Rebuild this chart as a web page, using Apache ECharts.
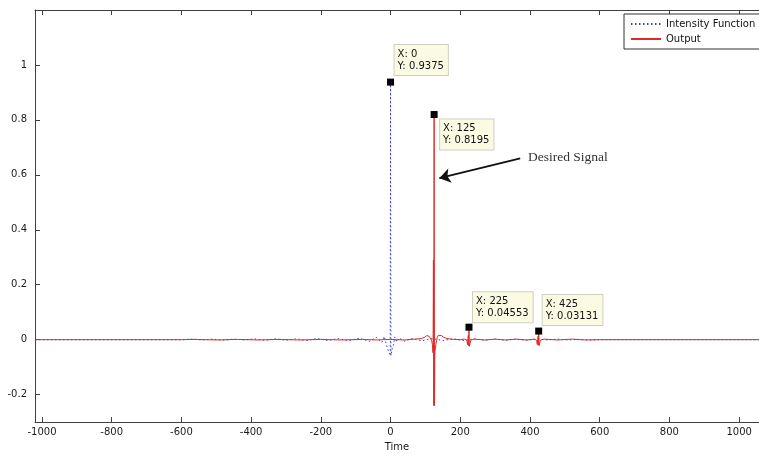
<!DOCTYPE html>
<html>
<head>
<meta charset="utf-8">
<script src="https://cdn.jsdelivr.net/npm/echarts@6/dist/echarts.min.js"></script>
<style>
  html, body { margin: 0; padding: 0; background: #fff; }
  #chart { width: 759px; height: 457px; }
</style>
</head>
<body>
<div id="chart"></div>
<script>
// tick labels
var xTicks = [-1000, -800, -600, -400, -200, 0, 200, 400, 600, 800, 1000];
var yTicks = [-0.2, 0, 0.2, 0.4, 0.6, 0.8, 1];

// Intensity Function (dotted blue), [time, value]
var intensityData = [
  [-1020, 0], [-600, 0], [-570, 0.002], [-540, -0.001], [-510, 0.002], [-480, -0.002],
  [-450, 0.002], [-420, -0.001], [-390, 0.003], [-360, -0.002], [-330, 0.003], [-300, -0.002],
  [-270, 0.003], [-240, -0.003], [-210, 0.004], [-180, -0.003], [-150, 0.004], [-120, -0.004],
  [-90, 0.005], [-60, -0.006], [-40, 0.008], [-25, -0.01], [-18, 0.012], [-12, -0.02],
  [-8, -0.035], [-5, -0.03], [-3, -0.05], [-1, -0.058], [0, 0.9375], [1, -0.058],
  [3, -0.045], [5, -0.03], [8, -0.02], [12, 0.01], [18, -0.008], [25, 0.006],
  [40, -0.005], [60, 0.004], [90, -0.004], [120, 0.004], [150, -0.003], [180, 0.003],
  [210, -0.003], [240, 0.003], [270, -0.002], [300, 0.002], [330, -0.002], [360, 0.002],
  [390, -0.002], [420, 0.002], [450, -0.001], [480, 0.002], [510, -0.001], [540, 0.001],
  [570, -0.001], [600, 0], [1057, 0]
];

// Output (solid red), [time, value]
var outputData = [
  [-1020, 0], [-600, 0], [-560, 0.001], [-500, -0.001], [-440, 0.001], [-380, -0.001],
  [-320, 0.001], [-260, -0.001], [-200, 0.001], [-140, -0.001], [-80, 0.001], [-40, -0.001],
  [0, 0.001], [40, -0.001], [70, 0.002], [88, 0.004], [98, 0.009], [104, 0.015],
  [108, 0.017], [111, 0.012], [113, 0.016], [116, 0.008], [118, -0.004], [120, -0.018],
  [121, -0.038], [122, -0.048], [123, 0.29], [124, -0.24], [125, 0.8195], [126, -0.24],
  [127, -0.048], [128, -0.038], [130, -0.018], [132, -0.004], [134, 0.008], [137, 0.016],
  [139, 0.012], [142, 0.017], [146, 0.015], [152, 0.009], [162, 0.004], [180, 0.001],
  [200, 0], [212, 0.002], [219, -0.002], [221, -0.018], [223, 0.015], [224, -0.022],
  [225, 0.04553], [226, -0.024], [228, -0.015], [230, -0.002], [240, 0.002], [270, -0.001],
  [300, 0.002], [330, -0.001], [360, 0.002], [390, -0.001], [412, 0.002], [419, -0.002],
  [421, -0.018], [423, 0.012], [424, -0.02], [425, 0.03131], [426, -0.022], [428, -0.012],
  [430, -0.002], [440, 0.002], [480, -0.001], [520, 0.002], [560, -0.001], [600, 0],
  [1057, 0]
];

// data tips
var tipX = [0, 125, 225, 425];
var tipY = [0.9375, 0.8195, 0.04553, 0.03131];

var chart = echarts.init(document.getElementById('chart'));

var axisColor = '#404040';
var plain = function (v) { return String(v); };
var tickFont = { color: '#1a1a1a', fontSize: 10, fontFamily: 'DejaVu Sans', formatter: plain };

// label placement of each tip box relative to its square
var tipPos = [
  { position: [7.5, -3.5], verticalAlign: 'bottom' },
  { position: [9.5, 8.5], verticalAlign: 'top' },
  { position: [7.5, -1.5], verticalAlign: 'bottom' },
  { position: [7.5, -2.5], verticalAlign: 'bottom' }
];

var tipData = tipX.map(function (x, i) {
  return {
    value: [x, tipY[i]],
    label: {
      position: tipPos[i].position,
      align: 'left',
      verticalAlign: tipPos[i].verticalAlign
    }
  };
});

var option = {
  animation: false,
  backgroundColor: '#fff',
  grid: { left: 35, right: 0, top: 10, bottom: 30.5, containLabel: false },
  legend: {
    data: ['Intensity Function', 'Output'],
    orient: 'vertical',
    left: 624,
    top: 14,
    itemWidth: 30,
    itemHeight: 10,
    itemGap: 5,
    padding: [5, 8, 5, 6],
    borderColor: '#333',
    borderWidth: 1,
    backgroundColor: '#fff',
    itemStyle: { color: 'transparent', borderColor: 'transparent', opacity: 0 },
    textStyle: { color: '#111', fontSize: 10, fontFamily: 'DejaVu Sans' }
  },
  xAxis: [
    {
      type: 'value',
      min: -1020,
      max: 1057,
      name: 'Time',
      nameLocation: 'middle',
      nameGap: 17,
      nameTextStyle: { color: '#1a1a1a', fontSize: 10, fontFamily: 'DejaVu Sans' },
      axisLine: { show: true, onZero: false, lineStyle: { color: axisColor, width: 1 } },
      axisTick: { show: true, inside: true, length: 5, customValues: xTicks, lineStyle: { color: axisColor } },
      axisLabel: Object.assign({ customValues: xTicks, margin: 5 }, tickFont),
      splitLine: { show: false }
    },
    {
      type: 'value',
      position: 'top',
      min: -1020,
      max: 1057,
      axisLine: { show: true, onZero: false, lineStyle: { color: axisColor, width: 1 } },
      axisTick: { show: true, inside: true, length: 5, customValues: xTicks, lineStyle: { color: axisColor } },
      axisLabel: { show: false },
      splitLine: { show: false }
    }
  ],
  yAxis: {
    type: 'value',
    min: -0.3,
    max: 1.2,
    axisLine: { show: true, onZero: false, lineStyle: { color: axisColor, width: 1 } },
    axisTick: { show: true, inside: true, length: 5, customValues: yTicks, lineStyle: { color: axisColor } },
    axisLabel: Object.assign({ customValues: yTicks, margin: 8 }, tickFont),
    splitLine: { show: false }
  },
  graphic: [
    {
      type: 'text',
      left: 528,
      top: 150,
      style: {
        text: 'Desired Signal',
        fill: '#333',
        fontSize: 13.5,
        fontFamily: 'Liberation Serif'
      }
    }
  ],
  series: [
    {
      name: 'Intensity Function',
      type: 'line',
      data: intensityData,
      showSymbol: false,
      symbol: 'none',
      lineStyle: { color: '#3344c4', width: 1, type: [1.5, 2.5] },
      itemStyle: { color: '#3344c4' },
      z: 2
    },
    {
      name: 'Output',
      type: 'line',
      data: outputData,
      showSymbol: false,
      symbol: 'none',
      lineStyle: { color: '#e02a2a', width: 1 },
      itemStyle: { color: '#e02a2a' },
      z: 3,
      markLine: {
        silent: true,
        symbol: ['none', 'arrow'],
        symbolSize: 11,
        label: { show: false },
        lineStyle: { color: '#111', width: 2, type: 'solid' },
        data: [[{ coord: [372, 0.66] }, { coord: [140, 0.588] }]]
      }
    },
    {
      name: 'tips',
      type: 'scatter',
      data: tipData,
      symbol: 'rect',
      symbolSize: 7,
      itemStyle: { color: '#000', opacity: 1 },
      z: 5,
      label: {
        show: true,
        formatter: function (p) {
          return 'X: ' + p.value[0] + '\nY: ' + p.value[1];
        },
        color: '#111',
        fontSize: 10,
        fontFamily: 'DejaVu Sans',
        lineHeight: 12,
        backgroundColor: '#fbfbe3',
        borderColor: '#cfcfbf',
        borderWidth: 1,
        padding: [3, 4, 3, 3]
      }
    }
  ]
};

chart.setOption(option);
</script>
</body>
</html>
